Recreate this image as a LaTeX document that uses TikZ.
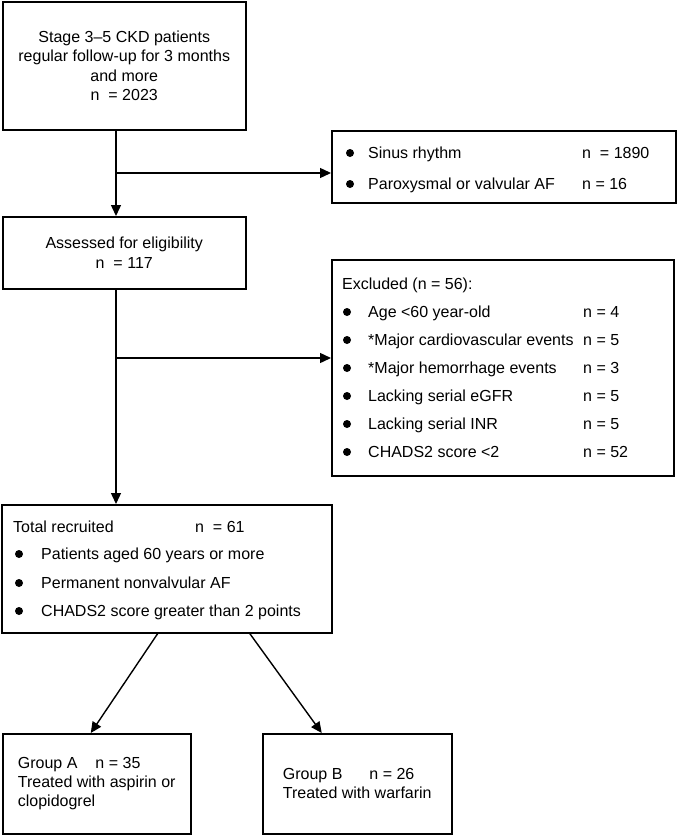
\documentclass[tikz,border=0pt]{standalone}
\usepackage{fontspec}
\setmainfont{Liberation Sans}
\usetikzlibrary{arrows.meta, positioning}
\begin{document}
\begin{tikzpicture}[x=1pt, y=-1pt, every node/.style={font=\fontsize{16}{19.3}\selectfont}]
    	\tikzstyle{box}=[draw,line width=1.5pt,anchor=north west,inner sep=0pt]
    	\tikzstyle{txt}=[anchor=base west,inner sep=0pt]
    	\tikzstyle{dot}=[circle,fill,inner sep=0pt,minimum size=8pt]
    	\tikzstyle{arr}=[line width=1.4pt,-{Triangle[length=11pt,width=10pt]}]
    \useasboundingbox (0,0) rectangle (677,835);
    % main column
    \node[box,align=center,minimum width=243pt,minimum height=128pt] (start) at (2,1)
        {Stage 3--5 CKD patients\\regular follow-up for 3 months\\and more\\n \ = 2023};
    \node[box,align=center,minimum width=243pt,minimum height=72pt] (elig) at (2,216)
        {Assessed for eligibility\\n \ = 117};
    \node[box,minimum width=330pt,minimum height=128pt] (recr) at (1,504) {};
    \node[box,align=left,minimum width=188pt,minimum height=100pt] (grpA) at (2,733)
        {Group A\hspace{18pt}n = 35\\Treated with aspirin or\\clopidogrel};
    \node[box,align=left,minimum width=189pt,minimum height=100pt] (grpB) at (262,733)
        {Group B\hspace{27pt}n = 26\\Treated with warfarin};
    % side boxes
    \node[box,minimum width=344pt,minimum height=72pt] (rhythm) at (331,130) {};
    \node[box,minimum width=342pt,minimum height=216pt] (excl) at (331,259) {};
    % rhythm box rows
    \node[dot] (rd1) at (350,153) {};
    \node[txt] (rt1) at (368,158) {Sinus rhythm};
    \node[txt] (rn1) at (582,158) {n \ = 1890};
    \node[dot] (rd2) at (350,184) {};
    \node[txt] (rt2) at (368,189) {Paroxysmal or valvular AF};
    \node[txt] (rn2) at (582,189) {n = 16};
    % excluded box rows
    \node[txt] (eh) at (342,289) {Excluded (n = 56):};
    \node[dot] (ed1) at (347,312) {};
    \node[txt] (et1) at (368,317) {Age <60 year-old};
    \node[txt] (en1) at (583,317) {n = 4};
    \node[dot] (ed2) at (347,340) {};
    \node[txt] (et2) at (368,345) {*Major cardiovascular events};
    \node[txt] (en2) at (583,345) {n = 5};
    \node[dot] (ed3) at (347,368) {};
    \node[txt] (et3) at (368,373) {*Major hemorrhage events};
    \node[txt] (en3) at (583,373) {n = 3};
    \node[dot] (ed4) at (347,396) {};
    \node[txt] (et4) at (368,401) {Lacking serial eGFR};
    \node[txt] (en4) at (583,401) {n = 5};
    \node[dot] (ed5) at (347,424) {};
    \node[txt] (et5) at (368,429) {Lacking serial INR};
    \node[txt] (en5) at (583,429) {n = 5};
    \node[dot] (ed6) at (347,452) {};
    \node[txt] (et6) at (368,457) {CHADS2 score <2};
    \node[txt] (en6) at (583,457) {n = 52};
    % recruited box rows
    \node[txt] (th) at (13,532) {Total recruited};
    \node[txt] (tn) at (195,532) {n \ = 61};
    \node[dot] (td1) at (19,554) {};
    \node[txt] (tt1) at (41,559) {Patients aged 60 years or more};
    \node[dot] (td2) at (19,583) {};
    \node[txt] (tt2) at (41,588) {Permanent nonvalvular AF};
    \node[dot] (td3) at (19,611) {};
    \node[txt] (tt3) at (41,616) {CHADS2 score greater than 2 points};
    % connectors
    \coordinate (j1) at (116,173);
    \coordinate (j2) at (116,358);
    \draw[line width=1.4pt] (start.south -| j1) -- (j1);
    \draw[arr] (j1) -- (elig.north -| j1);
    \draw[arr] (j1) -- (rhythm.west |- j1);
    \draw[line width=1.4pt] (elig.south -| j2) -- (j2);
    \draw[arr] (j2) -- (recr.north -| j2);
    \draw[arr] (j2) -- (excl.west |- j2);
    \draw[arr] ([xshift=-9pt]recr.south) -- ([xshift=-6pt]grpA.north);
    \draw[arr] ([xshift=83pt]recr.south) -- ([xshift=-35.5pt]grpB.north);
  \end{tikzpicture}
\end{document}
